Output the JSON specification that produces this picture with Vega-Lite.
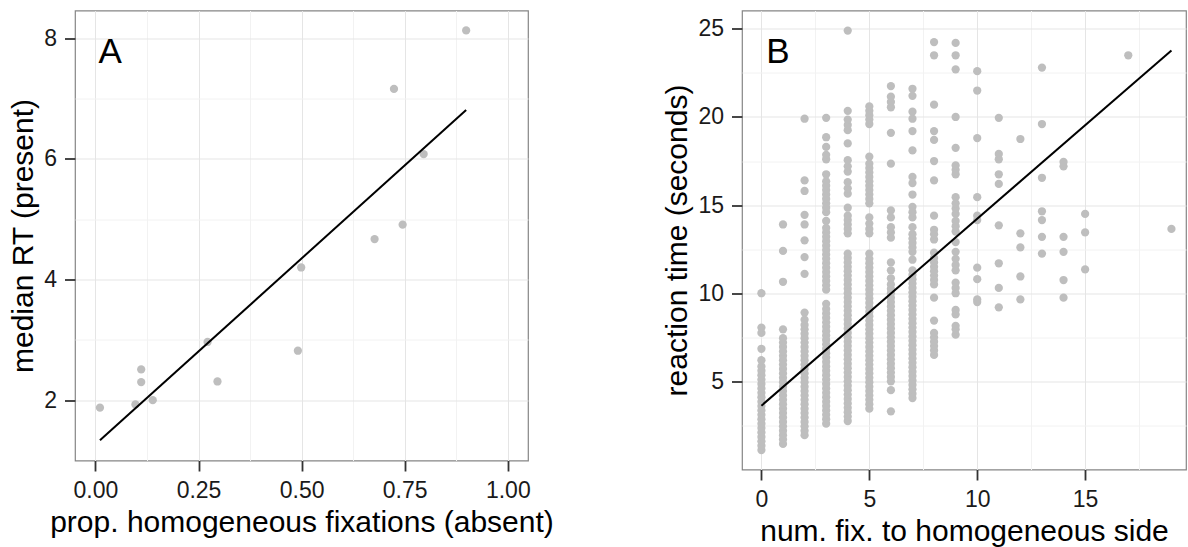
{
  "$schema": "https://vega.github.io/schema/vega-lite/v6.json",
  "background": "white",
  "padding": {"left": 8, "top": 9.5, "right": 0, "bottom": 0},
  "spacing": 214,
  "bounds": "flush",
  "config": {
    "font": "Liberation Sans",
    "view": {"stroke": "#858585", "strokeWidth": 1.2},
    "axis": {
      "domain": false,
      "ticks": true,
      "tickSize": 10.5,
      "tickWidth": 1.8,
      "tickColor": "#333333",
      "labelFont": "Liberation Sans",
      "labelFontSize": 23,
      "labelColor": "#1a1a1a",
      "labelPadding": 8,
      "labelOverlap": false,
      "labelFlush": false,
      "labelBound": false,
      "titleFont": "Liberation Sans",
      "titleFontSize": 30,
      "titleFontWeight": "normal",
      "titleColor": "#000000",
      "titlePadding": 5,
      "grid": true,
      "gridWidth": 1
    },
    "axisX": {"labelAngle": 0}
  },
  "datasets": {
    "a": [
      {"prop": 0.011, "rt": 1.876},
      {"prop": 0.097, "rt": 1.93},
      {"prop": 0.111, "rt": 2.51},
      {"prop": 0.111, "rt": 2.30},
      {"prop": 0.139, "rt": 2.0},
      {"prop": 0.272, "rt": 2.965},
      {"prop": 0.296, "rt": 2.31},
      {"prop": 0.491, "rt": 2.82},
      {"prop": 0.499, "rt": 4.2},
      {"prop": 0.677, "rt": 4.67},
      {"prop": 0.724, "rt": 7.16},
      {"prop": 0.745, "rt": 4.91},
      {"prop": 0.796, "rt": 6.08},
      {"prop": 0.899, "rt": 8.13}
    ],
    "aline": [
      {"prop": 0.011, "rt": 1.335},
      {"prop": 0.899, "rt": 6.81}
    ],
    "bline": [
      {"nfix": 0, "rt": 3.62},
      {"nfix": 19, "rt": 23.77}
    ],
    "b": [
      {"nfix":0,"rt":1.1},{"nfix":0,"rt":1.35},{"nfix":0,"rt":1.6},{"nfix":0,"rt":1.85},{"nfix":0,"rt":2.1},{"nfix":0,"rt":2.35},{"nfix":0,"rt":2.6},{"nfix":0,"rt":2.85},{"nfix":0,"rt":3.1},{"nfix":0,"rt":3.35},{"nfix":0,"rt":3.6},{"nfix":0,"rt":3.85},{"nfix":0,"rt":4.1},{"nfix":0,"rt":4.35},{"nfix":0,"rt":4.6},{"nfix":0,"rt":4.85},{"nfix":0,"rt":5.1},{"nfix":0,"rt":5.35},{"nfix":0,"rt":5.6},{"nfix":0,"rt":5.85},{"nfix":0,"rt":6.2},{"nfix":0,"rt":6.85},{"nfix":0,"rt":7.75},{"nfix":0,"rt":8.05},{"nfix":0,"rt":10.0},
      {"nfix":1,"rt":1.45},{"nfix":1,"rt":1.7},{"nfix":1,"rt":1.95},{"nfix":1,"rt":2.2},{"nfix":1,"rt":2.45},{"nfix":1,"rt":2.7},{"nfix":1,"rt":2.95},{"nfix":1,"rt":3.2},{"nfix":1,"rt":3.45},{"nfix":1,"rt":3.7},{"nfix":1,"rt":3.95},{"nfix":1,"rt":4.2},{"nfix":1,"rt":4.45},{"nfix":1,"rt":4.7},{"nfix":1,"rt":4.95},{"nfix":1,"rt":5.2},{"nfix":1,"rt":5.45},{"nfix":1,"rt":5.7},{"nfix":1,"rt":5.95},{"nfix":1,"rt":6.2},{"nfix":1,"rt":6.45},{"nfix":1,"rt":6.7},{"nfix":1,"rt":6.95},{"nfix":1,"rt":7.2},{"nfix":1,"rt":7.45},{"nfix":1,"rt":7.95},{"nfix":1,"rt":10.65},{"nfix":1,"rt":12.4},{"nfix":1,"rt":13.9},
      {"nfix":2,"rt":1.95},{"nfix":2,"rt":2.2},{"nfix":2,"rt":2.45},{"nfix":2,"rt":2.7},{"nfix":2,"rt":2.95},{"nfix":2,"rt":3.2},{"nfix":2,"rt":3.45},{"nfix":2,"rt":3.7},{"nfix":2,"rt":3.95},{"nfix":2,"rt":4.2},{"nfix":2,"rt":4.45},{"nfix":2,"rt":4.7},{"nfix":2,"rt":4.95},{"nfix":2,"rt":5.2},{"nfix":2,"rt":5.45},{"nfix":2,"rt":5.7},{"nfix":2,"rt":5.95},{"nfix":2,"rt":6.2},{"nfix":2,"rt":6.45},{"nfix":2,"rt":6.7},{"nfix":2,"rt":6.95},{"nfix":2,"rt":7.2},{"nfix":2,"rt":7.45},{"nfix":2,"rt":7.7},{"nfix":2,"rt":7.95},{"nfix":2,"rt":8.2},{"nfix":2,"rt":8.5},{"nfix":2,"rt":8.9},{"nfix":2,"rt":11.1},{"nfix":2,"rt":12.05},{"nfix":2,"rt":13.0},{"nfix":2,"rt":13.9},{"nfix":2,"rt":14.45},{"nfix":2,"rt":15.8},{"nfix":2,"rt":16.4},{"nfix":2,"rt":19.9},
      {"nfix":3,"rt":2.6},{"nfix":3,"rt":2.85},{"nfix":3,"rt":3.1},{"nfix":3,"rt":3.35},{"nfix":3,"rt":3.6},{"nfix":3,"rt":3.85},{"nfix":3,"rt":4.1},{"nfix":3,"rt":4.35},{"nfix":3,"rt":4.6},{"nfix":3,"rt":4.85},{"nfix":3,"rt":5.1},{"nfix":3,"rt":5.35},{"nfix":3,"rt":5.6},{"nfix":3,"rt":5.85},{"nfix":3,"rt":6.1},{"nfix":3,"rt":6.35},{"nfix":3,"rt":6.6},{"nfix":3,"rt":6.85},{"nfix":3,"rt":7.1},{"nfix":3,"rt":7.35},{"nfix":3,"rt":7.6},{"nfix":3,"rt":7.85},{"nfix":3,"rt":8.1},{"nfix":3,"rt":8.35},{"nfix":3,"rt":8.6},{"nfix":3,"rt":8.85},{"nfix":3,"rt":9.1},{"nfix":3,"rt":9.4},{"nfix":3,"rt":10.2},{"nfix":3,"rt":10.45},{"nfix":3,"rt":10.7},{"nfix":3,"rt":10.95},{"nfix":3,"rt":11.2},{"nfix":3,"rt":11.45},{"nfix":3,"rt":11.7},{"nfix":3,"rt":11.95},{"nfix":3,"rt":12.2},{"nfix":3,"rt":12.45},{"nfix":3,"rt":12.7},{"nfix":3,"rt":12.95},{"nfix":3,"rt":13.2},{"nfix":3,"rt":13.45},{"nfix":3,"rt":13.7},{"nfix":3,"rt":14.1},{"nfix":3,"rt":14.6},{"nfix":3,"rt":14.85},{"nfix":3,"rt":15.1},{"nfix":3,"rt":15.35},{"nfix":3,"rt":15.6},{"nfix":3,"rt":15.85},{"nfix":3,"rt":16.1},{"nfix":3,"rt":16.35},{"nfix":3,"rt":16.75},{"nfix":3,"rt":17.6},{"nfix":3,"rt":17.85},{"nfix":3,"rt":18.3},{"nfix":3,"rt":18.85},{"nfix":3,"rt":19.95},
      {"nfix":4,"rt":2.75},{"nfix":4,"rt":3.0},{"nfix":4,"rt":3.25},{"nfix":4,"rt":3.5},{"nfix":4,"rt":3.75},{"nfix":4,"rt":4.0},{"nfix":4,"rt":4.25},{"nfix":4,"rt":4.5},{"nfix":4,"rt":4.75},{"nfix":4,"rt":5.0},{"nfix":4,"rt":5.25},{"nfix":4,"rt":5.5},{"nfix":4,"rt":5.75},{"nfix":4,"rt":6.0},{"nfix":4,"rt":6.25},{"nfix":4,"rt":6.5},{"nfix":4,"rt":6.75},{"nfix":4,"rt":7.0},{"nfix":4,"rt":7.25},{"nfix":4,"rt":7.5},{"nfix":4,"rt":7.75},{"nfix":4,"rt":8.0},{"nfix":4,"rt":8.25},{"nfix":4,"rt":8.5},{"nfix":4,"rt":8.75},{"nfix":4,"rt":9.0},{"nfix":4,"rt":9.25},{"nfix":4,"rt":9.5},{"nfix":4,"rt":9.75},{"nfix":4,"rt":10.0},{"nfix":4,"rt":10.25},{"nfix":4,"rt":10.5},{"nfix":4,"rt":10.75},{"nfix":4,"rt":11.0},{"nfix":4,"rt":11.25},{"nfix":4,"rt":11.5},{"nfix":4,"rt":11.75},{"nfix":4,"rt":12.0},{"nfix":4,"rt":12.25},{"nfix":4,"rt":13.4},{"nfix":4,"rt":13.65},{"nfix":4,"rt":13.9},{"nfix":4,"rt":14.15},{"nfix":4,"rt":14.4},{"nfix":4,"rt":14.85},{"nfix":4,"rt":15.65},{"nfix":4,"rt":15.95},{"nfix":4,"rt":16.3},{"nfix":4,"rt":16.9},{"nfix":4,"rt":17.2},{"nfix":4,"rt":17.55},{"nfix":4,"rt":18.5},{"nfix":4,"rt":19.25},{"nfix":4,"rt":19.55},{"nfix":4,"rt":19.85},{"nfix":4,"rt":20.35},{"nfix":4,"rt":24.9},
      {"nfix":5,"rt":3.45},{"nfix":5,"rt":3.7},{"nfix":5,"rt":3.95},{"nfix":5,"rt":4.2},{"nfix":5,"rt":4.45},{"nfix":5,"rt":4.7},{"nfix":5,"rt":4.95},{"nfix":5,"rt":5.2},{"nfix":5,"rt":5.45},{"nfix":5,"rt":5.7},{"nfix":5,"rt":5.95},{"nfix":5,"rt":6.2},{"nfix":5,"rt":6.45},{"nfix":5,"rt":6.7},{"nfix":5,"rt":6.95},{"nfix":5,"rt":7.2},{"nfix":5,"rt":7.45},{"nfix":5,"rt":7.7},{"nfix":5,"rt":7.95},{"nfix":5,"rt":8.2},{"nfix":5,"rt":8.45},{"nfix":5,"rt":8.7},{"nfix":5,"rt":8.95},{"nfix":5,"rt":9.2},{"nfix":5,"rt":9.45},{"nfix":5,"rt":9.7},{"nfix":5,"rt":9.95},{"nfix":5,"rt":10.2},{"nfix":5,"rt":10.45},{"nfix":5,"rt":10.7},{"nfix":5,"rt":10.95},{"nfix":5,"rt":11.2},{"nfix":5,"rt":11.45},{"nfix":5,"rt":11.7},{"nfix":5,"rt":11.95},{"nfix":5,"rt":12.25},{"nfix":5,"rt":13.4},{"nfix":5,"rt":13.65},{"nfix":5,"rt":13.95},{"nfix":5,"rt":14.3},{"nfix":5,"rt":15.1},{"nfix":5,"rt":15.35},{"nfix":5,"rt":15.6},{"nfix":5,"rt":15.85},{"nfix":5,"rt":16.1},{"nfix":5,"rt":16.35},{"nfix":5,"rt":16.6},{"nfix":5,"rt":16.85},{"nfix":5,"rt":17.1},{"nfix":5,"rt":17.35},{"nfix":5,"rt":17.75},{"nfix":5,"rt":19.6},{"nfix":5,"rt":19.85},{"nfix":5,"rt":20.1},{"nfix":5,"rt":20.35},{"nfix":5,"rt":20.6},
      {"nfix":6,"rt":3.3},{"nfix":6,"rt":4.5},{"nfix":6,"rt":5.0},{"nfix":6,"rt":5.25},{"nfix":6,"rt":5.5},{"nfix":6,"rt":5.75},{"nfix":6,"rt":6.0},{"nfix":6,"rt":6.25},{"nfix":6,"rt":6.5},{"nfix":6,"rt":6.75},{"nfix":6,"rt":7.0},{"nfix":6,"rt":7.25},{"nfix":6,"rt":7.5},{"nfix":6,"rt":7.75},{"nfix":6,"rt":8.0},{"nfix":6,"rt":8.25},{"nfix":6,"rt":8.5},{"nfix":6,"rt":8.75},{"nfix":6,"rt":9.0},{"nfix":6,"rt":9.25},{"nfix":6,"rt":9.5},{"nfix":6,"rt":9.75},{"nfix":6,"rt":10.0},{"nfix":6,"rt":10.25},{"nfix":6,"rt":10.5},{"nfix":6,"rt":10.85},{"nfix":6,"rt":11.3},{"nfix":6,"rt":11.75},{"nfix":6,"rt":13.15},{"nfix":6,"rt":13.45},{"nfix":6,"rt":13.75},{"nfix":6,"rt":14.3},{"nfix":6,"rt":14.7},{"nfix":6,"rt":17.35},{"nfix":6,"rt":19.1},{"nfix":6,"rt":20.55},{"nfix":6,"rt":20.85},{"nfix":6,"rt":21.15},{"nfix":6,"rt":21.75},
      {"nfix":7,"rt":4.05},{"nfix":7,"rt":4.3},{"nfix":7,"rt":4.55},{"nfix":7,"rt":4.8},{"nfix":7,"rt":5.05},{"nfix":7,"rt":5.3},{"nfix":7,"rt":5.55},{"nfix":7,"rt":5.8},{"nfix":7,"rt":6.05},{"nfix":7,"rt":6.3},{"nfix":7,"rt":6.55},{"nfix":7,"rt":6.8},{"nfix":7,"rt":7.05},{"nfix":7,"rt":7.3},{"nfix":7,"rt":7.55},{"nfix":7,"rt":7.8},{"nfix":7,"rt":8.05},{"nfix":7,"rt":8.3},{"nfix":7,"rt":8.55},{"nfix":7,"rt":8.8},{"nfix":7,"rt":9.05},{"nfix":7,"rt":9.3},{"nfix":7,"rt":9.55},{"nfix":7,"rt":9.8},{"nfix":7,"rt":10.05},{"nfix":7,"rt":10.3},{"nfix":7,"rt":10.55},{"nfix":7,"rt":10.8},{"nfix":7,"rt":11.05},{"nfix":7,"rt":11.3},{"nfix":7,"rt":11.9},{"nfix":7,"rt":12.35},{"nfix":7,"rt":12.6},{"nfix":7,"rt":12.85},{"nfix":7,"rt":13.1},{"nfix":7,"rt":13.35},{"nfix":7,"rt":13.75},{"nfix":7,"rt":14.3},{"nfix":7,"rt":14.6},{"nfix":7,"rt":14.9},{"nfix":7,"rt":15.6},{"nfix":7,"rt":16.25},{"nfix":7,"rt":16.6},{"nfix":7,"rt":18.1},{"nfix":7,"rt":19.2},{"nfix":7,"rt":19.9},{"nfix":7,"rt":20.3},{"nfix":7,"rt":21.2},{"nfix":7,"rt":21.6},
      {"nfix":8,"rt":6.5},{"nfix":8,"rt":6.75},{"nfix":8,"rt":7.0},{"nfix":8,"rt":7.25},{"nfix":8,"rt":7.5},{"nfix":8,"rt":7.75},{"nfix":8,"rt":8.45},{"nfix":8,"rt":9.75},{"nfix":8,"rt":10.5},{"nfix":8,"rt":10.75},{"nfix":8,"rt":11.0},{"nfix":8,"rt":11.25},{"nfix":8,"rt":11.5},{"nfix":8,"rt":11.75},{"nfix":8,"rt":12.0},{"nfix":8,"rt":12.3},{"nfix":8,"rt":13.05},{"nfix":8,"rt":13.35},{"nfix":8,"rt":13.6},{"nfix":8,"rt":14.4},{"nfix":8,"rt":16.4},{"nfix":8,"rt":17.5},{"nfix":8,"rt":18.7},{"nfix":8,"rt":19.2},{"nfix":8,"rt":20.7},{"nfix":8,"rt":23.5},{"nfix":8,"rt":24.25},
      {"nfix":9,"rt":7.65},{"nfix":9,"rt":7.95},{"nfix":9,"rt":8.15},{"nfix":9,"rt":8.8},{"nfix":9,"rt":9.05},{"nfix":9,"rt":10.0},{"nfix":9,"rt":10.3},{"nfix":9,"rt":10.6},{"nfix":9,"rt":11.3},{"nfix":9,"rt":11.6},{"nfix":9,"rt":11.95},{"nfix":9,"rt":12.35},{"nfix":9,"rt":12.9},{"nfix":9,"rt":13.5},{"nfix":9,"rt":13.8},{"nfix":9,"rt":14.1},{"nfix":9,"rt":14.5},{"nfix":9,"rt":14.8},{"nfix":9,"rt":15.1},{"nfix":9,"rt":15.45},{"nfix":9,"rt":16.75},{"nfix":9,"rt":17.0},{"nfix":9,"rt":17.25},{"nfix":9,"rt":18.25},{"nfix":9,"rt":20.0},{"nfix":9,"rt":22.7},{"nfix":9,"rt":23.5},{"nfix":9,"rt":24.2},
      {"nfix":10,"rt":9.5},{"nfix":10,"rt":9.65},{"nfix":10,"rt":10.8},{"nfix":10,"rt":11.45},{"nfix":10,"rt":14.15},{"nfix":10,"rt":14.4},{"nfix":10,"rt":15.45},{"nfix":10,"rt":18.8},{"nfix":10,"rt":21.5},{"nfix":10,"rt":22.6},
      {"nfix":11,"rt":9.2},{"nfix":11,"rt":10.3},{"nfix":11,"rt":11.7},{"nfix":11,"rt":13.85},{"nfix":11,"rt":16.2},{"nfix":11,"rt":16.75},{"nfix":11,"rt":17.6},{"nfix":11,"rt":17.9},{"nfix":11,"rt":19.95},
      {"nfix":12,"rt":9.65},{"nfix":12,"rt":10.95},{"nfix":12,"rt":12.6},{"nfix":12,"rt":13.4},{"nfix":12,"rt":18.75},
      {"nfix":13,"rt":12.25},{"nfix":13,"rt":13.2},{"nfix":13,"rt":14.15},{"nfix":13,"rt":14.65},{"nfix":13,"rt":16.55},{"nfix":13,"rt":19.6},{"nfix":13,"rt":22.8},
      {"nfix":14,"rt":9.75},{"nfix":14,"rt":10.75},{"nfix":14,"rt":12.35},{"nfix":14,"rt":13.2},{"nfix":14,"rt":17.2},{"nfix":14,"rt":17.45},
      {"nfix":15,"rt":11.35},{"nfix":15,"rt":13.45},{"nfix":15,"rt":14.5},
      {"nfix":17,"rt":23.5},
      {"nfix":19,"rt":13.65}
    ]
  },
  "hconcat": [
    {
      "width": 453,
      "height": 450,
      "layer": [
        {
          "data": {"name": "a"},
          "mark": {"type": "circle", "size": 68, "color": "#BEBEBE", "opacity": 1},
          "encoding": {
            "x": {
              "field": "prop", "type": "quantitative",
              "title": "prop. homogeneous fixations (absent)",
              "scale": {"domain": [-0.0495, 1.049], "nice": false, "zero": false},
              "axis": {
                "values": [0, 0.125, 0.25, 0.375, 0.5, 0.625, 0.75, 0.875, 1],
                "labelExpr": "abs(datum.value*4-round(datum.value*4)) > 0.01 ? '' : format(datum.value, '.2f')",
                "tickOpacity": {"condition": {"test": "abs(datum.value*4-round(datum.value*4)) > 0.01", "value": 0}, "value": 1},
                "gridColor": {"condition": {"test": "abs(datum.value*4-round(datum.value*4)) > 0.01", "value": "#F2F2F2"}, "value": "#E5E5E5"}
              }
            },
            "y": {
              "field": "rt", "type": "quantitative",
              "title": "median RT (present)",
              "scale": {"domain": [1.0, 8.46], "nice": false, "zero": false},
              "axis": {
                "values": [2, 3, 4, 5, 6, 7, 8],
                "labelExpr": "datum.value % 2 !== 0 ? '' : format(datum.value, 'd')",
                "tickOpacity": {"condition": {"test": "datum.value % 2 !== 0", "value": 0}, "value": 1},
                "gridColor": {"condition": {"test": "datum.value % 2 !== 0", "value": "#F2F2F2"}, "value": "#E5E5E5"}
              }
            }
          }
        },
        {
          "data": {"name": "aline"},
          "mark": {"type": "line", "color": "#000000", "strokeWidth": 2},
          "encoding": {
            "x": {"field": "prop", "type": "quantitative", "title": "prop. homogeneous fixations (absent)"},
            "y": {"field": "rt", "type": "quantitative", "title": "median RT (present)"}
          }
        },
        {
          "data": {"values": [{"panel": "A"}]},
          "mark": {"type": "text", "fontSize": 35, "align": "center", "baseline": "alphabetic", "font": "Liberation Sans", "color": "#000000"},
          "encoding": {
            "x": {"datum": 0.0356},
            "y": {"datum": 7.59},
            "text": {"field": "panel"}
          }
        }
      ]
    },
    {
      "width": 444,
      "height": 459,
      "layer": [
        {
          "data": {"name": "b"},
          "mark": {"type": "circle", "size": 68, "color": "#BEBEBE", "opacity": 1},
          "encoding": {
            "x": {
              "field": "nfix", "type": "quantitative",
              "title": "num. fix. to homogeneous side",
              "scale": {"domain": [-0.9, 19.675], "nice": false, "zero": false},
              "axis": {
                "values": [0, 2.5, 5, 7.5, 10, 12.5, 15, 17.5],
                "labelExpr": "datum.value % 5 !== 0 ? '' : format(datum.value, 'd')",
                "tickOpacity": {"condition": {"test": "datum.value % 5 !== 0", "value": 0}, "value": 1},
                "gridColor": {"condition": {"test": "datum.value % 5 !== 0", "value": "#F2F2F2"}, "value": "#E5E5E5"}
              }
            },
            "y": {
              "field": "rt", "type": "quantitative",
              "title": "reaction time (seconds)",
              "scale": {"domain": [0.0, 26.04], "nice": false, "zero": false},
              "axis": {
                "values": [2.5, 5, 7.5, 10, 12.5, 15, 17.5, 20, 22.5, 25],
                "labelExpr": "datum.value % 5 !== 0 ? '' : format(datum.value, 'd')",
                "tickOpacity": {"condition": {"test": "datum.value % 5 !== 0", "value": 0}, "value": 1},
                "gridColor": {"condition": {"test": "datum.value % 5 !== 0", "value": "#F2F2F2"}, "value": "#E5E5E5"}
              }
            }
          }
        },
        {
          "data": {"name": "bline"},
          "mark": {"type": "line", "color": "#000000", "strokeWidth": 2},
          "encoding": {
            "x": {"field": "nfix", "type": "quantitative", "title": "num. fix. to homogeneous side"},
            "y": {"field": "rt", "type": "quantitative", "title": "reaction time (seconds)"}
          }
        },
        {
          "data": {"values": [{"panel": "B"}]},
          "mark": {"type": "text", "fontSize": 35, "align": "center", "baseline": "alphabetic", "font": "Liberation Sans", "color": "#000000"},
          "encoding": {
            "x": {"datum": 0.765},
            "y": {"datum": 23.05},
            "text": {"field": "panel"}
          }
        }
      ]
    }
  ]
}
